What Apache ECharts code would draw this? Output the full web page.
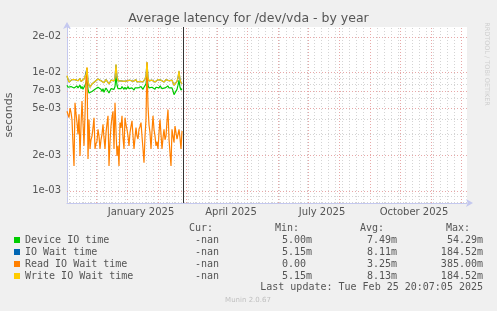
<!DOCTYPE html>
<html>
<head>
<meta charset="utf-8">
<script src="https://cdn.jsdelivr.net/npm/echarts@6/dist/echarts.min.js"></script>
<style>
  html, body { margin: 0; padding: 0; background: #f0f0f0; }
  #chart { width: 497px; height: 311px; }
</style>
</head>
<body>
<div id="chart"></div>
<script>
// one value per day, first value is on 2024-11-02
var firstDay = [2024, 10, 2];
var axisStart = [2024, 10, 2];
var axisEnd = [2025, 11, 7];
var nowTime = [2025, 1, 25, 20, 7, 5];

var seriesNames = ['Device IO time', 'IO Wait time', 'Read IO Wait time', 'Write IO Wait time'];
var seriesColors = ['#00cc00', '#0066b3', '#ff8000', '#ffcc00'];

var deviceIO = [
  0.0078,0.0075,0.0073,0.0075,0.0076,0.0075,0.0077,0.0074,0.0076,0.0075,
  0.0077,0.0074,0.0076,0.0078,0.0073,0.0076,0.0072,0.0075,0.0078,0.0082,
  0.0090,0.0072,0.0067,0.0065,0.0067,0.0069,0.0071,0.0069,0.0072,0.0074,
  0.0071,0.0075,0.0073,0.0076,0.0072,0.0069,0.0073,0.0068,0.0071,0.0074,
  0.0076,0.0072,0.0067,0.0070,0.0073,0.0071,0.0075,0.0072,0.0076,0.0093,
  0.0078,0.0073,0.0071,0.0075,0.0073,0.0076,0.0074,0.0072,0.0075,0.0072,
  0.0074,0.0076,0.0073,0.0075,0.0072,0.0074,0.0073,0.0071,0.0074,0.0076,
  0.0072,0.0074,0.0075,0.0073,0.0076,0.0074,0.0072,0.0075,0.0077,0.0080,
  0.0096,0.0078,0.0074,0.0076,0.0073,0.0075,0.0077,0.0074,0.0072,0.0075,
  0.0073,0.0076,0.0074,0.0077,0.0075,0.0073,0.0075,0.0072,0.0074,0.0076,
  0.0075,0.0077,0.0074,0.0076,0.0073,0.0074,0.0070,0.0065,0.0063,0.0066,
  0.0072,0.0078,0.0086,0.0075,0.0071,0.0073
];

var ioWait = [
  0.0093,0.0088,0.0083,0.0085,0.0085,0.0087,0.0085,0.0084,0.0087,0.0086,
  0.0088,0.0085,0.0086,0.0089,0.0084,0.0087,0.0083,0.0088,0.0092,0.0095,
  0.0109,0.0084,0.0078,0.0075,0.0077,0.0080,0.0083,0.0081,0.0084,0.0085,
  0.0083,0.0088,0.0086,0.0089,0.0085,0.0083,0.0086,0.0082,0.0084,0.0087,
  0.0089,0.0085,0.0080,0.0083,0.0086,0.0084,0.0088,0.0085,0.0090,0.0116,
  0.0092,0.0085,0.0083,0.0087,0.0085,0.0088,0.0086,0.0084,0.0086,0.0083,
  0.0085,0.0087,0.0084,0.0086,0.0083,0.0085,0.0084,0.0082,0.0085,0.0087,
  0.0083,0.0085,0.0086,0.0084,0.0087,0.0085,0.0083,0.0086,0.0088,0.0093,
  0.0121,0.0090,0.0085,0.0087,0.0084,0.0086,0.0088,0.0085,0.0083,0.0086,
  0.0084,0.0087,0.0085,0.0088,0.0086,0.0084,0.0086,0.0083,0.0085,0.0087,
  0.0086,0.0088,0.0085,0.0087,0.0084,0.0086,0.0083,0.0078,0.0076,0.0079,
  0.0084,0.0090,0.0102,0.0087,0.0082,0.0080
];

var readIO = [
  0.0047,0.0044,0.00415,0.0050,0.0046,0.0040,0.0025,0.00162,0.00555,0.0045,
  0.00377,0.0030,0.00443,0.00197,0.00353,0.00575,0.0038,0.0024,0.00443,0.0088,
  0.0110,0.00186,0.0040,0.00226,0.0027,0.0029,0.0034,0.00415,0.00226,0.0025,
  0.00263,0.00331,0.0029,0.00226,0.0027,0.0030,0.00365,0.0028,0.00226,0.0031,
  0.0037,0.0043,0.00162,0.0026,0.00353,0.0042,0.0047,0.00226,0.00555,0.0032,
  0.00197,0.0024,0.00162,0.00377,0.0034,0.0043,0.0028,0.00226,0.00415,0.0036,
  0.00331,0.0029,0.0024,0.0031,0.0035,0.0039,0.0029,0.00226,0.0028,0.00343,
  0.0029,0.00274,0.00331,0.0035,0.00377,0.0029,0.00226,0.00173,0.0029,0.0040,
  0.0122,0.0052,0.0036,0.0031,0.00226,0.0032,0.0043,0.00331,0.0029,0.0024,
  0.0026,0.00226,0.0031,0.0040,0.0030,0.00226,0.0028,0.00331,0.0027,0.0029,
  0.0039,0.00485,0.00274,0.0021,0.00162,0.00331,0.0029,0.00256,0.00353,0.0031,
  0.00274,0.0030,0.00331,0.0028,0.00226,0.0032
];

var writeIO = [
  0.0094,0.0088,0.0083,0.0086,0.0085,0.0087,0.0086,0.0084,0.0087,0.0086,
  0.0088,0.0085,0.0086,0.0089,0.0084,0.0087,0.0083,0.0088,0.0092,0.0096,
  0.0110,0.0084,0.0078,0.0075,0.0077,0.0080,0.0083,0.0081,0.0084,0.0086,
  0.0083,0.0088,0.0086,0.0089,0.0085,0.0083,0.0086,0.0082,0.0084,0.0087,
  0.0089,0.0085,0.0080,0.0083,0.0086,0.0084,0.0088,0.0085,0.0090,0.0117,
  0.0092,0.0085,0.0083,0.0087,0.0085,0.0088,0.0086,0.0084,0.0086,0.0083,
  0.0085,0.0087,0.0084,0.0086,0.0083,0.0085,0.0084,0.0082,0.0085,0.0087,
  0.0083,0.0085,0.0086,0.0084,0.0087,0.0085,0.0083,0.0086,0.0088,0.0093,
  0.0122,0.0090,0.0085,0.0087,0.0084,0.0086,0.0088,0.0085,0.0083,0.0086,
  0.0084,0.0087,0.0085,0.0088,0.0086,0.0084,0.0086,0.0083,0.0085,0.0087,
  0.0086,0.0088,0.0085,0.0087,0.0084,0.0086,0.0083,0.0078,0.0076,0.0079,
  0.0084,0.0090,0.0103,0.0087,0.0082,0.0080
];

// legend table
var curValues = ['-nan', '-nan', '-nan', '-nan'];
var minValues = ['5.00m', '5.15m', '0.00 ', '5.15m'];
var avgValues = ['7.49m', '8.11m', '3.25m', '8.13m'];
var maxValues = ['54.29m', '184.52m', '385.00m', '184.52m'];
var lastUpdate = 'Last update: Tue Feb 25 20:07:05 2025';

// axis ticks
var yLabelTicks = [0.001, 0.002, 0.005, 0.007, 0.01, 0.02];
var yMinorTicks = [0.0008, 0.0009, 0.003, 0.004, 0.006, 0.008, 0.009];
var xLabelMonths = [[2025, 0], [2025, 3], [2025, 6], [2025, 9]];
var monthNames = ['January', 'February', 'March', 'April', 'May', 'June', 'July',
  'August', 'September', 'October', 'November', 'December'];

var DAY = 24 * 3600 * 1000;
var startTime = new Date(firstDay[0], firstDay[1], firstDay[2]).getTime();
var minTime = new Date(axisStart[0], axisStart[1], axisStart[2]).getTime();
var maxTime = new Date(axisEnd[0], axisEnd[1], axisEnd[2]).getTime();
var now = new Date(nowTime[0], nowTime[1], nowTime[2], nowTime[3], nowTime[4], nowTime[5]).getTime();

function toPairs(values) {
  return values.map(function (v, i) {
    return [startTime + i * DAY, v];
  });
}

function expLabel(v) {
  var s = Number(v).toExponential(0);
  var parts = s.split('e');
  var e = parseInt(parts[1], 10);
  var sign = e < 0 ? '-' : '+';
  var abs = Math.abs(e);
  return parts[0] + 'e' + sign + (abs < 10 ? '0' + abs : abs);
}

var gray = '#d4d4d4';
var red = '#e8a8a8';
var gridLines = [];

// weekly minor lines (mondays)
var monday = new Date(2024, 10, 4).getTime();
for (var t = monday; t < maxTime; t += 7 * DAY) {
  gridLines.push({ xAxis: t, lineStyle: { color: gray, type: [1, 2], width: 1 } });
}
// month lines
for (var m = 11; ; m++) {
  var mt = new Date(2024, m, 1).getTime();
  if (mt >= maxTime) break;
  gridLines.push({ xAxis: mt, lineStyle: { color: red, type: [1, 2], width: 1 } });
}
yMinorTicks.forEach(function (v) {
  gridLines.push({ yAxis: v, lineStyle: { color: gray, type: [1, 2], width: 1 } });
});
yLabelTicks.forEach(function (v) {
  gridLines.push({
    yAxis: v,
    lineStyle: { color: red, type: [1, 2], width: 1 },
    label: {
      show: true, position: 'start', distance: 6,
      formatter: function (p) { return expLabel(p.value); },
      color: '#555', fontFamily: 'DejaVu Sans', fontSize: 10
    }
  });
});
gridLines.push({ xAxis: now, lineStyle: { color: '#333', type: 'solid', width: 1 } });

var chart = echarts.init(document.getElementById('chart'));

var lineSeries = seriesNames.map(function (name, i) {
  var values = [deviceIO, ioWait, readIO, writeIO][i];
  return {
    name: name,
    type: 'line',
    data: toPairs(values),
    symbol: 'none',
    z: 3,
    lineStyle: { width: 1.2, color: seriesColors[i] },
    itemStyle: { color: seriesColors[i] },
    animation: false
  };
});

var tableText = [];
var headerX = [213, 299, 384, 470];
var valueX = [219, 312, 397, 483];
['Cur:', 'Min:', 'Avg:', 'Max:'].forEach(function (h, i) {
  tableText.push({ text: h, x: headerX[i], y: 228 });
});
[curValues, minValues, avgValues, maxValues].forEach(function (col, c) {
  col.forEach(function (s, r) {
    tableText.push({ text: s, x: valueX[c], y: 240 + r * 12 });
  });
});
tableText.push({ text: lastUpdate, x: 483, y: 287 });

var graphics = tableText.map(function (d) {
  return {
    type: 'text', x: d.x, y: d.y, silent: true,
    style: {
      text: d.text, fill: '#555', font: '10px "DejaVu Sans Mono"',
      align: 'right', verticalAlign: 'middle',
      textAlign: 'right', textVerticalAlign: 'middle'
    }
  };
});
graphics.push({
  type: 'text', x: 248, y: 300, silent: true,
  style: {
    text: 'Munin 2.0.67', fill: '#c0c0c0', font: '7px "DejaVu Sans"',
    align: 'center', verticalAlign: 'middle', textAlign: 'center', textVerticalAlign: 'middle'
  }
});
graphics.push({
  type: 'text', x: 487, y: 64, rotation: -Math.PI / 2, silent: true,
  style: {
    text: 'RRDTOOL / TOBI OETIKER', fill: '#cfcfcf', font: '6.5px "DejaVu Sans"',
    align: 'center', verticalAlign: 'middle', textAlign: 'center', textVerticalAlign: 'middle'
  }
});

var option = {
  backgroundColor: '#f0f0f0',
  animation: false,
  title: {
    text: 'Average latency for /dev/vda - by year',
    left: 'center',
    top: 12,
    padding: 0,
    textStyle: { fontFamily: 'DejaVu Sans', fontSize: 12.5, fontWeight: 'normal', color: '#555' }
  },
  legend: {
    data: seriesNames,
    orient: 'vertical',
    left: 14,
    top: 234,
    padding: 0,
    icon: 'rect',
    itemWidth: 6,
    itemHeight: 6,
    itemGap: 0,
    selectedMode: false,
    textStyle: { fontFamily: 'DejaVu Sans Mono', fontSize: 10, color: '#555', lineHeight: 12 }
  },
  grid: {
    left: 67, right: 30, top: 27, bottom: 108,
    show: true, backgroundColor: '#ffffff', borderWidth: 0,
    outerBoundsMode: 'none'
  },
  xAxis: {
    type: 'value',
    min: minTime,
    max: maxTime,
    axisLine: {
      onZero: false,
      symbol: ['none', 'arrow'], symbolSize: [6, 7], symbolOffset: [0, 6],
      lineStyle: { color: '#c4c8ef' }
    },
    axisTick: { show: false },
    splitLine: { show: false },
    axisLabel: {
      customValues: xLabelMonths.map(function (ym) { return new Date(ym[0], ym[1], 15).getTime(); }),
      formatter: function (v) {
        var d = new Date(v);
        return monthNames[d.getMonth()] + ' ' + d.getFullYear();
      },
      margin: 4,
      color: '#555', fontFamily: 'DejaVu Sans', fontSize: 10
    }
  },
  yAxis: {
    type: 'log',
    logBase: 10,
    min: 0.00079,
    max: 0.0242,
    name: 'seconds',
    nameLocation: 'middle',
    nameGap: 52,
    nameTextStyle: { fontFamily: 'DejaVu Sans', fontSize: 11, color: '#555' },
    axisLine: {
      show: true, onZero: false,
      symbol: ['none', 'arrow'], symbolSize: [6, 7], symbolOffset: [0, 5],
      lineStyle: { color: '#c4c8ef' }
    },
    axisTick: { show: false },
    axisLabel: { show: false },
    splitLine: { show: false }
  },
  graphic: graphics,
  series: [{
    name: 'grid',
    type: 'line',
    data: [],
    z: 1,
    silent: true,
    markLine: {
      silent: true,
      z: 1,
      precision: 8,
      symbol: ['none', 'none'],
      animation: false,
      label: { show: false },
      emphasis: { disabled: true },
      data: gridLines
    }
  }].concat(lineSeries)
};

chart.setOption(option);
</script>
</body>
</html>
